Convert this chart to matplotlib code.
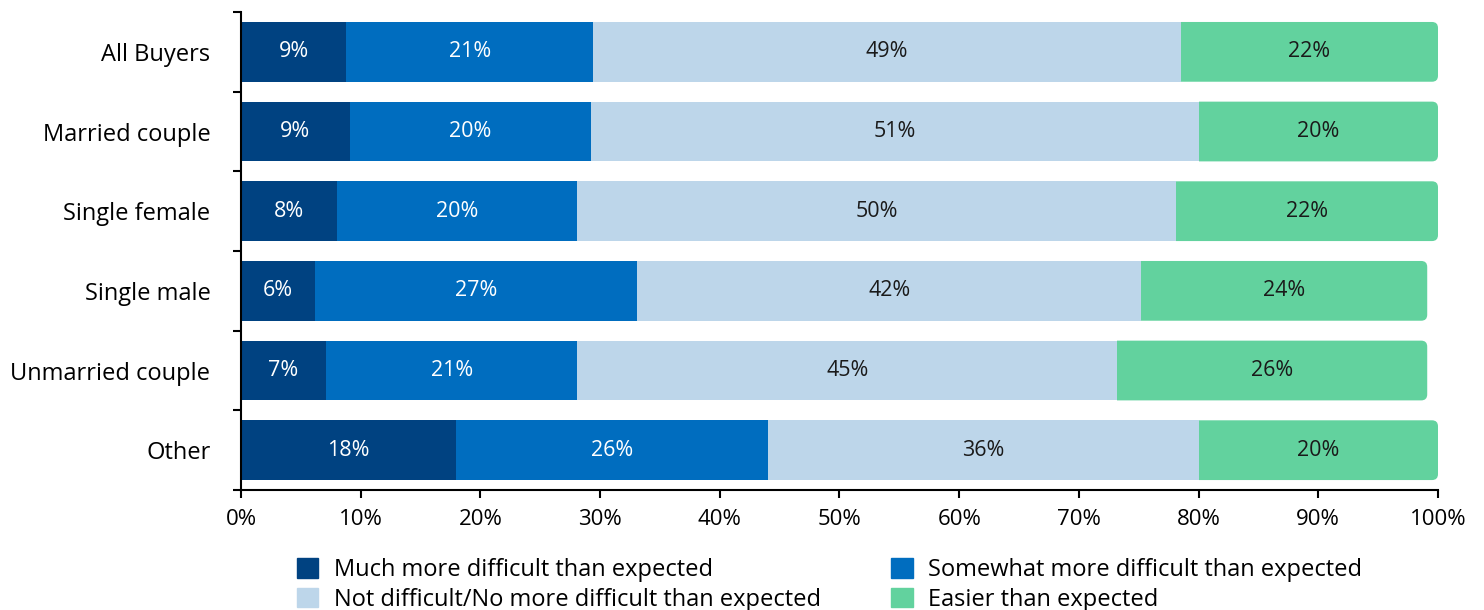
import matplotlib.pyplot as plt
from matplotlib.patches import FancyBboxPatch, Patch, Rectangle

plt.rcParams['font.family'] = ['Open Sans', 'DejaVu Sans']

groups = ['All Buyers', 'Married couple', 'Single female', 'Single male', 'Unmarried couple', 'Other']
much_more = [8.8, 9.1, 8.0, 6.2, 7.1, 18.0]
somewhat_more = [20.6, 20.1, 20.1, 26.9, 21.0, 26.0]
not_difficult = [49.1, 50.8, 50.0, 42.1, 45.1, 36.0]
easier = [21.5, 20.0, 21.9, 23.9, 25.9, 20.0]

series = ['Much more difficult than expected', 'Somewhat more difficult than expected',
          'Not difficult/No more difficult than expected', 'Easier than expected']
colors = ['#004281', '#006dbf', '#bdd6ea', '#62d29e']
text_colors = ['white', 'white', '#1a1a1a', '#1a1a1a']

fig = plt.figure(figsize=(14.84, 6.1), dpi=100)
ax = fig.add_axes([0.1624, 0.1967, 0.8066, 0.7836])

bar_h = 0.75
y = list(range(len(groups)))
values = [much_more, somewhat_more, not_difficult, easier]
lefts = [0.0] * len(groups)
for i, (vals, c) in enumerate(zip(values, colors)):
    for j in y:
        if i == 3:
            # rounded right end; left side clipped square
            patch = FancyBboxPatch((lefts[j] - 2, j - bar_h / 2), vals[j] + 2, bar_h,
                                   boxstyle='round,pad=0,rounding_size=0.5',
                                   mutation_aspect=0.15, fc=c, ec='none', zorder=2)
            ax.add_patch(patch)
            clip = Rectangle((lefts[j], j - 1), vals[j] + 1, 2, transform=ax.transData)
            patch.set_clip_path(clip)
        else:
            ax.barh(j, vals[j], left=lefts[j], height=bar_h, color=c, zorder=2)
        ax.text(lefts[j] + vals[j] / 2, j, f'{round(vals[j])}%', ha='center', va='center',
                color=text_colors[i], fontsize=15.5, zorder=3)
        lefts[j] += vals[j]

ax.set_xlim(0, 100)
ax.set_ylim(len(groups) - 0.5, -0.5)
ax.set_xticks(range(0, 101, 10))
ax.set_xticklabels([f'{v}%' for v in range(0, 101, 10)], fontsize=16)
ax.set_yticks(y)
ax.set_yticklabels(groups, fontsize=17)
ax.set_yticks([k - 0.5 for k in range(len(groups) + 1)], minor=True)
ax.tick_params(axis='y', which='major', length=0, pad=22)
ax.tick_params(axis='y', which='minor', length=6, width=1.5)
ax.tick_params(axis='x', length=6, width=1.5, pad=8)
for s in ['top', 'right']:
    ax.spines[s].set_visible(False)
for s in ['left', 'bottom']:
    ax.spines[s].set_linewidth(1.5)

handles = [Patch(color=colors[k]) for k in [0, 2, 1, 3]]
labels = [series[k] for k in [0, 2, 1, 3]]
fig.legend(handles, labels, ncol=2, loc='lower left', bbox_to_anchor=(297 / 1484, -0.003),
           frameon=False, fontsize=17, handlelength=0.9, handleheight=0.9,
           columnspacing=3.0, labelspacing=0.25, handletextpad=0.65,
           borderpad=0, borderaxespad=0)

fig.savefig('out.png', dpi=100)
